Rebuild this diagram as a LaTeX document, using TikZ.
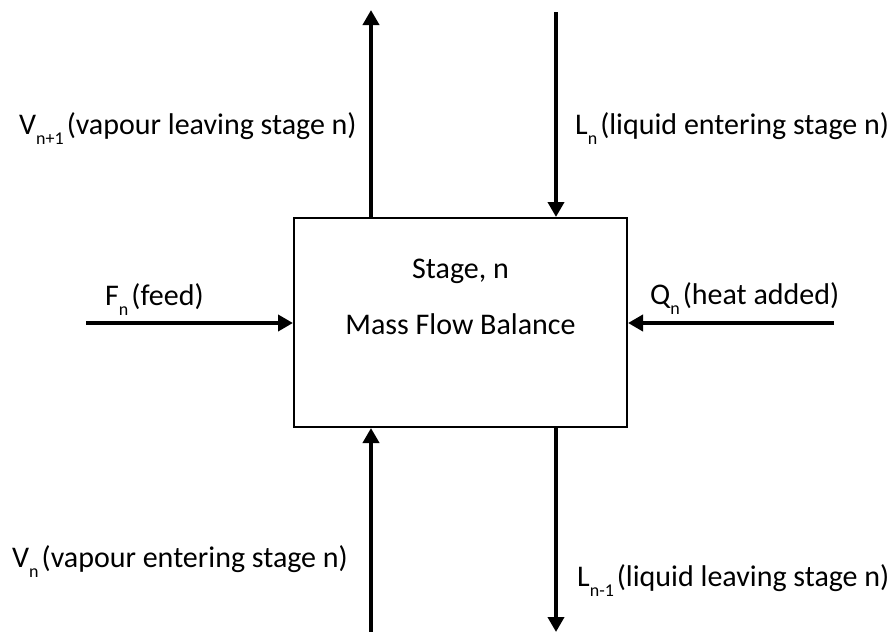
\documentclass[tikz,border=0pt]{standalone}
\usepackage{fontspec}
\setmainfont{Carlito}
\usetikzlibrary{arrows.meta}
% lowered, smaller subscript as set by a word processor, with a narrow gap after it
\newcommand{\lowsub}[1]{\raisebox{-10pt}{\fontsize{18}{18}\selectfont #1}\hspace{3pt}}
\tikzset{
  flow/.style={line width=4pt, -{Triangle[length=15pt,width=16pt]}},
  stagebox/.style={draw, line width=2pt, minimum width=333pt, minimum height=209pt, inner sep=0pt},
  lbl/.style={anchor=base west, inner sep=0pt, font=\fontsize{30}{30}\selectfont},
  ctr/.style={anchor=base, inner sep=0pt, font=\fontsize{30}{30}\selectfont},
}
\begin{document}
\begin{tikzpicture}[x=1pt, y=-1pt]
  \useasboundingbox (0,0) rectangle (892,632);

  % the stage
  \node[stagebox] (stage) at (460.5,322.5) {};
  \node[ctr] (title) at (460.5,278) {Stage, n};
  \node[ctr] (sub) at (460.5,334) {Mass Flow Balance};

  % free ends of the streams
  \coordinate (vtop) at (371,10);
  \coordinate (ltop) at (556,12);
  \coordinate (fin) at (86,323);
  \coordinate (qin) at (834,323);
  \coordinate (vbot) at (371,632);
  \coordinate (lbot) at (556,632);

  % streams
  \draw[flow] (stage.north -| vtop) -- (vtop);
  \draw[flow] (ltop) -- (stage.north -| ltop);
  \draw[flow] (fin) -- (stage.west |- fin);
  \draw[flow] (qin) -- (stage.east |- qin);
  \draw[flow] (vbot) -- (stage.south -| vbot);
  \draw[flow] (stage.south -| lbot) -- (lbot);

  % stream labels
  \node[lbl] (lv1) at (19,134) {V\lowsub{n+1}(vapour leaving stage n)};
  \node[lbl] (ll) at (575,134) {L\lowsub{n}(liquid entering stage n)};
  \node[lbl] (lf) at (105,305) {F\lowsub{n}(feed)};
  \node[lbl] (lq) at (650,304) {Q\lowsub{n}(heat added)};
  \node[lbl] (lv) at (12,567) {V\lowsub{n}(vapour entering stage n)};
  \node[lbl] (ll1) at (577,586) {L\lowsub{n-1}(liquid leaving stage n)};
\end{tikzpicture}
\end{document}
